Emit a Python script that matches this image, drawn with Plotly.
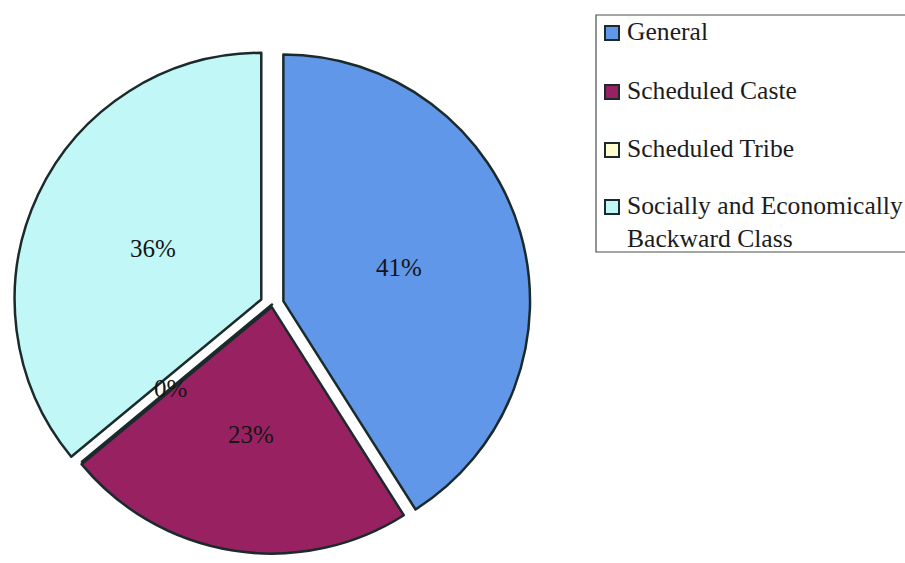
import math
import plotly.graph_objects as go

# Category shares (percent)
categories = ["General", "Scheduled Caste", "Scheduled Tribe",
              "Socially and Economically Backward Class"]
legend_labels = ["General", "Scheduled Caste", "Scheduled Tribe",
                 "Socially and Economically<br>Backward Class"]
shares = [41, 23, 0, 36]
slice_colors = ["#6197E9", "#982162", "#FFFFD2", "#C2F7F7"]
pulls = [0.048, 0.01, 0.0, 0.048]

W, H = 905, 563
OUTLINE = "#1b2a2b"
SERIF = "Liberation Serif, Times New Roman, serif"
LABEL_FONT = dict(family=SERIF, size=25, color="#151515")

# pie box in pixels
box_top, box_bottom = 46, 563
box_h = box_bottom - box_top
cx_px = 272
cy_px = box_top + box_h / 2
r_px = box_h / (2 + 2 * max(pulls))

fig = go.Figure()
fig.add_trace(go.Pie(
    labels=categories,
    values=shares,
    sort=False,
    direction="clockwise",
    rotation=0,
    pull=pulls,
    marker=dict(colors=slice_colors, line=dict(color=OUTLINE, width=2.5)),
    textinfo="none",
    domain=dict(x=[(cx_px - box_h / 2) / W, (cx_px + box_h / 2) / W],
                y=[1 - box_bottom / H, 1 - box_top / H]),
    showlegend=False,
    hoverinfo="label+percent",
))

# percentage labels, placed along each slice's bisector
total = sum(shares)
cum = 0
for v in shares:
    mid = (cum + v / 2) / total * 2 * math.pi
    d = 0.535 * r_px
    fig.add_annotation(
        x=(cx_px + d * math.sin(mid)) / W,
        y=1 - (cy_px - d * math.cos(mid)) / H,
        xref="paper", yref="paper", showarrow=False,
        xanchor="center", yanchor="middle",
        text=f"{v / total:.0%}", font=LABEL_FONT,
    )
    cum += v

# legend box
fig.add_shape(type="rect", xref="paper", yref="paper",
              x0=596 / W, x1=1.02, y0=1 - 252 / H, y1=1 - 15 / H,
              line=dict(color="#4a4f4f", width=1.2), fillcolor="rgba(0,0,0,0)")

legend_rows = [33, 92, 150, 207]
for lab, col, yrow in zip(legend_labels, slice_colors, legend_rows):
    fig.add_shape(type="rect", xref="paper", yref="paper",
                  x0=605 / W, x1=619 / W,
                  y0=1 - (yrow + 7) / H, y1=1 - (yrow - 7) / H,
                  line=dict(color=OUTLINE, width=2), fillcolor=col)
    fig.add_annotation(
        x=625 / W, y=1 - (yrow - 18) / H, xref="paper", yref="paper",
        xanchor="left", yanchor="top", align="left", showarrow=False,
        text=lab, font=dict(family=SERIF, size=25.6, color="#1c1c1c"),
    )

fig.update_layout(
    width=W, height=H,
    margin=dict(l=0, r=0, t=0, b=0),
    paper_bgcolor="white", plot_bgcolor="white",
)

fig.write_html("out.html")
